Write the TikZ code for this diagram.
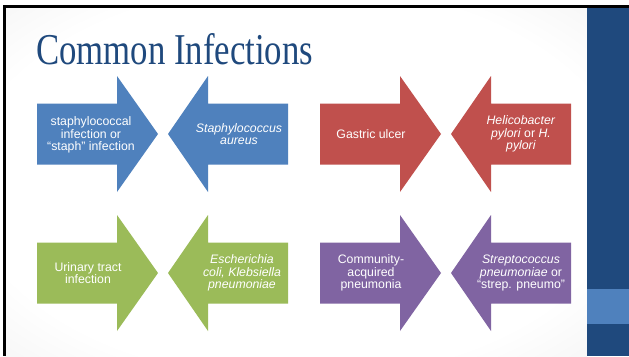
\documentclass[tikz,border=0pt]{standalone}
\usepackage{fontspec}
\setmainfont{Liberation Sans}
\newfontfamily\titlefont{Liberation Serif}
\definecolor{slideblue}{HTML}{1F497D}
\definecolor{accblue}{HTML}{4F81BD}
\definecolor{accred}{HTML}{C0504D}
\definecolor{accgreen}{HTML}{9BBB59}
\definecolor{accpurple}{HTML}{8064A2}
\pgfdeclareradialshading{slidebg}{\pgfpoint{0bp}{0bp}}{color(0bp)=(white); color(28bp)=(white); color(50bp)=(black!9); color(72bp)=(black!16)}

\begin{document}
\begin{tikzpicture}[x=1pt,y=-1pt,
    lbl/.style={text=white,align=center,inner sep=0pt,font=\fontsize{12.3}{12.6}\selectfont}]
  \useasboundingbox (0,0) rectangle (629,356);
  \fill[white] (0,0) rectangle (629,356);
  \shade[shading=slidebg] (5,7) rectangle (587,356);
  % side panel
  \fill[slideblue] (587,7) rectangle (629,356);
  \fill[accblue]   (587,289) rectangle (629,324);
  % frame
  \fill[black] (3,5) rectangle (629,7.5);
  \fill[black] (3,5) rectangle (5.5,356);

  \node[anchor=base west, text=slideblue, inner sep=0pt, xscale=0.79,
        font=\titlefont\fontsize{44}{44}\selectfont] (title) at (36,64) {Common Infections};

  % top row
  \fill[accblue]   (37,103.5) -- (117,103.5) -- (117,76) -- (158,134) -- (117,192) -- (117,164.5) -- (37,164.5) -- cycle;
  \fill[accblue]   (288,103.5) -- (208,103.5) -- (208,76) -- (168,134) -- (208,192) -- (208,164.5) -- (288,164.5) -- cycle;
  \fill[accred]    (320,103.5) -- (400,103.5) -- (400,76) -- (441,134) -- (400,192) -- (400,164.5) -- (320,164.5) -- cycle;
  \fill[accred]    (571,103.5) -- (491,103.5) -- (491,76) -- (451,134) -- (491,192) -- (491,164.5) -- (571,164.5) -- cycle;
  % bottom row
  \fill[accgreen]  (37,242.5) -- (117,242.5) -- (117,215) -- (158,273) -- (117,331) -- (117,303.5) -- (37,303.5) -- cycle;
  \fill[accgreen]  (288,242.5) -- (208,242.5) -- (208,215) -- (168,273) -- (208,331) -- (208,303.5) -- (288,303.5) -- cycle;
  \fill[accpurple] (320,242.5) -- (400,242.5) -- (400,215) -- (441,273) -- (400,331) -- (400,303.5) -- (320,303.5) -- cycle;
  \fill[accpurple] (571,242.5) -- (491,242.5) -- (491,215) -- (451,273) -- (491,331) -- (491,303.5) -- (571,303.5) -- cycle;

  \node[lbl] (staph)    at (91,135)  {staphylococcal\\infection or\\“staph” infection};
  \node[lbl] (saureus)  at (239,134) {\textit{Staphylococcus}\\\textit{aureus}};
  \node[lbl] (gastric)  at (371,134) {Gastric ulcer};
  \node[lbl] (hpylori)  at (521,134) {\textit{Helicobacter}\\\textit{pylori} or \textit{H.}\\\textit{pylori}};
  \node[lbl] (uti)      at (88,273)  {Urinary tract\\infection};
  \node[lbl] (ecoli)    at (242,273) {\textit{Escherichia}\\\textit{coli, Klebsiella}\\\textit{pneumoniae}};
  \node[lbl] (cap)      at (371,273) {Community-\\acquired\\pneumonia};
  \node[lbl] (spneumo)  at (521,273) {\textit{Streptococcus}\\\textit{pneumoniae} or\\“strep. pneumo”};
\end{tikzpicture}
\end{document}
